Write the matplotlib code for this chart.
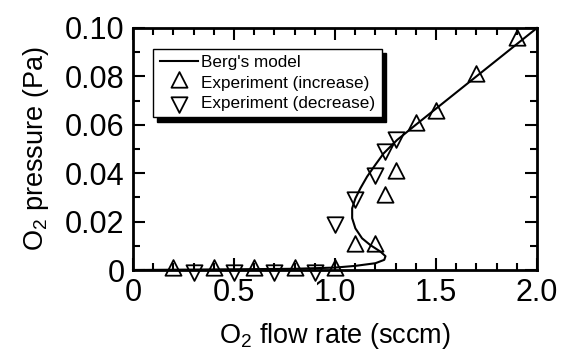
import matplotlib
matplotlib.use("Agg")
from matplotlib import pyplot as plt
from matplotlib.path import Path
from matplotlib.ticker import MultipleLocator

plt.rcParams.update({'font.family': ['Liberation Sans', 'DejaVu Sans'], 'mathtext.fontset': 'custom',
                     'mathtext.rm': 'Liberation Sans'})

# Berg's model
model_flow = [0.0, 0.5, 0.8, 1.0, 1.1, 1.2, 1.244, 1.25, 1.225, 1.175, 1.134, 1.101, 1.085,
              1.085, 1.101, 1.126, 1.159, 1.2, 1.241, 1.307, 1.4, 1.7, 2.0]
model_p = [0.0, 0.0003, 0.0005, 0.001, 0.0017, 0.0028, 0.0042, 0.0057, 0.0076, 0.0103, 0.0131,
           0.0172, 0.0214, 0.0255, 0.0296, 0.0338, 0.0386, 0.0435, 0.0482, 0.0537, 0.06, 0.08, 0.1]

# experiment, flow increasing
inc_flow = [0.2, 0.4, 0.6, 0.8, 1.0, 1.1, 1.2, 1.25, 1.3, 1.4, 1.5, 1.7, 1.9]
inc_p = [0, 0, 0, 0, 0, 0.01, 0.01, 0.03, 0.04, 0.06, 0.065, 0.08, 0.095]

# experiment, flow decreasing
dec_flow = [0.3, 0.5, 0.7, 0.9, 1.0, 1.1, 1.2, 1.25, 1.3]
dec_p = [0, 0, 0, 0, 0.02, 0.03, 0.04, 0.05, 0.055]

# triangles centred on their centroid
up = Path([(-1, -0.65), (1, -0.65), (0, 1.3), (-1, -0.65)], closed=True)
down = Path([(-1, 0.65), (1, 0.65), (0, -1.3), (-1, 0.65)], closed=True)

fig = plt.figure(figsize=(5.65, 3.58), dpi=100)
ax = fig.add_axes([0.2354, 0.2458, 0.715, 0.676])

ax.plot(model_flow, model_p, color='k', lw=1.5, label="Berg's model", clip_on=False)
ax.plot(inc_flow, inc_p, ls='none', marker=up, ms=15, mfc='none', mec='k', mew=1.3,
        label='Experiment (increase)', clip_on=False)
ax.plot(dec_flow, dec_p, ls='none', marker=down, ms=15, mfc='none', mec='k', mew=1.3,
        label='Experiment (decrease)', clip_on=False)

ax.set_xlim(0, 2.0)
ax.set_ylim(0, 0.1)
ax.xaxis.set_major_locator(MultipleLocator(0.5))
ax.xaxis.set_minor_locator(MultipleLocator(0.1))
ax.yaxis.set_major_locator(MultipleLocator(0.02))
ax.yaxis.set_minor_locator(MultipleLocator(0.01))
ax.set_xticks([0, 0.5, 1.0, 1.5, 2.0], ['0', '0.5', '1.0', '1.5', '2.0'])
ax.set_yticks([0, 0.02, 0.04, 0.06, 0.08, 0.10], ['0', '0.02', '0.04', '0.06', '0.08', '0.10'])
ax.tick_params(which='both', direction='in', top=True, right=True, width=1.5, labelsize=22, pad=6)
ax.tick_params(which='major', length=8.5)
ax.tick_params(which='minor', length=5)
for s in ax.spines.values():
    s.set_linewidth(2)

ax.set_xlabel('O$_2$ flow rate (sccm)', fontsize=19.5, labelpad=9)
ax.set_ylabel('O$_2$ pressure (Pa)', fontsize=19.5, labelpad=10)

leg = ax.legend(loc='upper left', bbox_to_anchor=(0.05, 0.915), borderaxespad=0, fontsize=12.3,
                fancybox=False, edgecolor='k', framealpha=1, handlelength=2.2, handletextpad=0.2,
                labelspacing=0.3, borderpad=0.4,
                shadow={'ox': 3, 'oy': -3, 'color': 'k', 'alpha': 1})
leg.get_frame().set_linewidth(1)

fig.savefig('out.png', dpi=100)
